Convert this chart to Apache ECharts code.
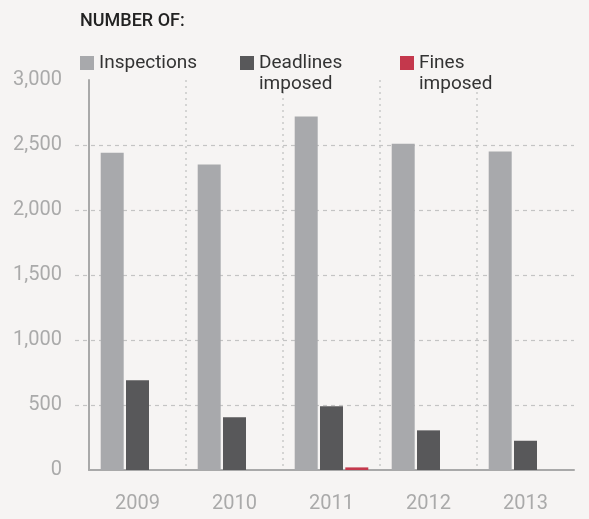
<!DOCTYPE html>
<html>
<head>
<meta charset="utf-8">
<script src="https://cdn.jsdelivr.net/npm/echarts@6/dist/echarts.min.js"></script>
<style>
html,body{margin:0;padding:0;background:#f6f4f3;}
#c{width:589px;height:519px;}
</style>
</head>
<body>
<div id="c"></div>
<script>
const years = ['2009', '2010', '2011', '2012', '2013'];
const inspections = [2440, 2350, 2720, 2510, 2450];
const deadlines = [690, 405, 490, 305, 225];
const fines = [0, 0, 20, 0, 0];
const yTicks = [0, 500, 1000, 1500, 2000, 2500, 3000];

const FONT = 'Roboto';
const chart = echarts.init(document.getElementById('c'));
const legendText = {color: '#333333', fontSize: 19, fontFamily: FONT, lineHeight: 21};
chart.setOption({
  backgroundColor: '#f6f4f3',
  animation: false,
  title: {
    text: 'NUMBER OF:', left: 80, top: 12, padding: 0,
    textStyle: {color: '#222', fontSize: 18, fontWeight: 500, fontFamily: FONT}
  },
  legend: [
    {data: ['Inspections'], left: 80, top: 52.5, padding: 0, itemWidth: 14, itemHeight: 14, icon: 'rect',
     textStyle: Object.assign({}, legendText)},
    {data: ['Deadlines imposed'], left: 240, top: 31.5, padding: 0, itemWidth: 14, itemHeight: 14, icon: 'rect',
     formatter: n => '\n' + n.replace(' ', '\n'),
     textStyle: Object.assign({}, legendText)},
    {data: ['Fines imposed'], left: 400, top: 31.5, padding: 0, itemWidth: 14, itemHeight: 14, icon: 'rect',
     formatter: n => '\n' + n.replace(' ', '\n'),
     textStyle: Object.assign({}, legendText)}
  ],
  grid: [
    {left: 89, right: 15, top: 80, bottom: 49},
    {left: 75, right: 15, top: 80, bottom: 49}
  ],
  xAxis: [
    {type: 'category', data: years, gridIndex: 0,
     axisLine: {lineStyle: {color: '#a9a9a9', width: 2}},
     axisTick: {show: false},
     axisLabel: {color: '#aaaaaa', fontSize: 20, fontFamily: FONT, margin: 24},
     splitLine: {show: true, showMinLine: false, showMaxLine: false,
       lineStyle: {color: '#c9c9c9', type: [2, 4], width: 1.5}}},
    {type: 'value', gridIndex: 1, show: false, min: 0, max: 1}
  ],
  yAxis: [
    {type: 'value', gridIndex: 0, min: 0, max: 3000, interval: 500,
     axisLine: {show: true, lineStyle: {color: '#a9a9a9', width: 2}},
     axisTick: {show: false},
     splitLine: {show: false},
     axisLabel: {color: '#aaaaaa', fontSize: 20, fontFamily: FONT, margin: 27,
       customValues: yTicks,
       formatter: v => v.toLocaleString('en-US')}},
    {type: 'value', gridIndex: 1, min: 0, max: 3000, interval: 500,
     axisLine: {show: false}, axisTick: {show: false}, axisLabel: {show: false},
     splitLine: {show: true, showMinLine: false, showMaxLine: false,
       lineStyle: {color: '#c4c4c4', type: [4, 4], width: 1.2}}}
  ],
  series: [
    {name: 'Inspections', type: 'bar', data: inspections, barWidth: 23, barGap: '10%',
     itemStyle: {color: '#a8a9ac'}, z: 3},
    {name: 'Deadlines imposed', type: 'bar', data: deadlines, barWidth: 23, barGap: '10%',
     itemStyle: {color: '#58585a'}, z: 3},
    {name: 'Fines imposed', type: 'bar', data: fines, barWidth: 23, barGap: '10%',
     itemStyle: {color: '#c4384c'}, z: 3}
  ]
});
</script>
</body>
</html>
